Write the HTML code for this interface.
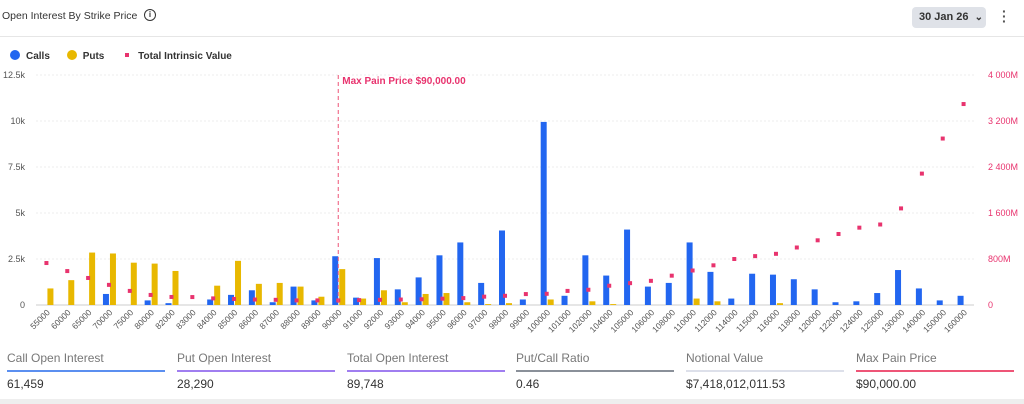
<!DOCTYPE html>
<html><head><meta charset="utf-8">
<style>
body{margin:0;width:1024px;height:404px;background:#fff;font-family:"Liberation Sans",Arial,sans-serif;overflow:hidden;position:relative}
.t{position:absolute}
.stat{position:absolute;top:351px;width:158px}
.stat .l{font-size:12px;color:#777;height:16px}
.stat .bar{height:2px;margin-top:3px}
.stat .v{font-size:12px;color:#333;margin-top:5px}
</style></head><body>
<div class="t" style="left:2px;top:10px;font-size:10.5px;color:#333">Open Interest By Strike Price</div>
<div class="t" style="left:144px;top:9px;width:10px;height:10px;border:1.5px solid #333;border-radius:50%;font-size:8px;font-weight:bold;text-align:center;line-height:10px;color:#333">i</div>
<div class="t" style="left:912px;top:7px;width:74px;height:21px;background:#dfe2e8;border-radius:4px;font-size:11px;font-weight:bold;color:#333;line-height:21px;padding-left:7px;box-sizing:border-box">30 Jan 26 <span style="font-size:10px;margin-left:3px">&#8964;</span></div>
<div class="t" style="left:1002px;top:9px;font-size:14px;color:#555;line-height:5px;font-weight:bold">·<br>·<br>·</div>
<div class="t" style="left:0;top:36px;width:1024px;height:1px;background:#e6e6e6"></div>
<div class="t" style="left:10px;top:50px;font-size:10px;font-weight:bold;color:#333">
<span><span style="display:inline-block;width:10px;height:10px;border-radius:50%;background:#2266f0;vertical-align:-1px;margin-right:6px"></span>Calls</span>
<span style="margin-left:14px"><span style="display:inline-block;width:10px;height:10px;border-radius:50%;background:#e8b800;vertical-align:-1px;margin-right:6px"></span>Puts</span>
<span style="margin-left:18px"><span style="display:inline-block;width:4px;height:4px;background:#e8336e;vertical-align:2px;margin-right:9px"></span>Total Intrinsic Value</span>
</div>
<svg id="c" width="1024" height="345" style="position:absolute;left:0;top:0"></svg>
<div class="stat" style="left:7px"><div class="l">Call Open Interest</div><div class="bar" style="background:#5b8ff0"></div><div class="v">61,459</div></div>
<div class="stat" style="left:177px"><div class="l">Put Open Interest</div><div class="bar" style="background:#a07ef0"></div><div class="v">28,290</div></div>
<div class="stat" style="left:347px"><div class="l">Total Open Interest</div><div class="bar" style="background:#a07ef0"></div><div class="v">89,748</div></div>
<div class="stat" style="left:516px"><div class="l">Put/Call Ratio</div><div class="bar" style="background:#8a9099"></div><div class="v">0.46</div></div>
<div class="stat" style="left:686px"><div class="l">Notional Value</div><div class="bar" style="background:#dde0ea"></div><div class="v">$7,418,012,011.53</div></div>
<div class="stat" style="left:856px"><div class="l">Max Pain Price</div><div class="bar" style="background:#ee5577"></div><div class="v">$90,000.00</div></div>
<div class="t" style="left:0;top:399px;width:1024px;height:5px;background:#eeeeee"></div>
<script>
const strikes=["55000","60000","65000","70000","75000","80000","82000","83000","84000","85000","86000","87000","88000","89000","90000","91000","92000","93000","94000","95000","96000","97000","98000","99000","100000","101000","102000","104000","105000","106000","108000","110000","112000","114000","115000","116000","118000","120000","122000","124000","125000","130000","140000","150000","160000"];
const calls=[0,0,0,0.6,0,0.25,0.1,0,0.3,0.55,0.8,0.15,1.0,0.25,2.65,0.4,2.55,0.85,1.5,2.7,3.4,1.2,4.05,0.3,9.95,0.5,2.7,1.6,4.1,1.0,1.2,3.4,1.8,0.35,1.7,1.65,1.4,0.85,0.15,0.2,0.65,1.9,0.9,0.25,0.5];
const puts=[0.9,1.35,2.85,2.8,2.3,2.25,1.85,0,1.05,2.4,1.15,1.2,1.0,0.45,1.95,0.35,0.8,0.15,0.6,0.65,0.15,0.05,0.1,0,0.3,0,0.2,0.05,0,0,0,0.35,0.2,0,0,0.1,0,0,0,0,0,0,0,0,0];
const intrinsic=[730,590,470,350,245,175,140,138,115,105,95,90,80,80,80,85,90,95,100,110,120,145,160,190,195,245,265,335,380,420,510,600,690,800,850,890,1000,1125,1235,1345,1400,1680,2285,2895,3495];
const leftTicks=[0,2.5,5,7.5,10,12.5];
const leftLabels=["0","2.5k","5k","7.5k","10k","12.5k"];
const rightTicks=[0,800,1600,2400,3200,4000];
const rightLabels=["0","800M","1 600M","2 400M","3 200M","4 000M"];
const maxPain="90000";
const svg=document.getElementById('c');const NS="http://www.w3.org/2000/svg";
const y0=305,y1=75,x0=36,x1=974;
const band=(x1-x0)/strikes.length;
const xC=i=>x0+band*(i+0.5);
const yL=v=>y0-(v/12.5)*(y0-y1);
const yR=v=>y0-(v/4000)*(y0-y1);
function mk(t,a,txt){const e=document.createElementNS(NS,t);for(const k in a)e.setAttribute(k,a[k]);if(txt!==undefined)e.textContent=txt;svg.appendChild(e);return e;}
leftTicks.forEach((v,i)=>{
 const g=mk('line',{x1:x0,x2:x1,y1:yL(v),y2:yL(v),stroke:i==0?'#ccc':'#eee','stroke-dasharray':i==0?'':'2,2'});
 
 
 const t=mk('text',{x:25,y:yL(v)+3,'text-anchor':'end','font-size':9,fill:'#555'},leftLabels[i]);
 
 
});
rightTicks.forEach((v,i)=>{
 const t=mk('text',{x:988,y:yR(v)+3,'font-size':9,fill:'#e8336e'},rightLabels[i]);
 
 
});
strikes.forEach((s,i)=>{
 const cx=xC(i);
 if(calls[i]>0){const b=mk('rect',{x:cx-6,y:yL(calls[i]),width:6,height:y0-yL(calls[i]),fill:'#2266f0'});
 
 }
 if(puts[i]>0){const b=mk('rect',{x:cx+1,y:yL(puts[i]),width:6,height:y0-yL(puts[i]),fill:'#e8b800'});
 
 }
 const d=mk('rect',{x:cx-2,y:yR(intrinsic[i])-2,width:4,height:4,fill:'#e8336e'});
 
 
 const t=mk('text',{x:cx+4,y:313,'text-anchor':'end','font-size':8.5,fill:'#555',transform:`rotate(-45 ${cx+4} 313)`},s);
 
 
});
const mi=strikes.indexOf(maxPain);const mx=xC(mi);
const ml=mk('line',{x1:mx,x2:mx,y1:y1,y2:y0,stroke:'#ee5577','stroke-dasharray':'4,3'});


const mt=mk('text',{x:mx+4,y:84,'font-size':10,'font-weight':'bold',fill:'#e8336e'},'Max Pain Price $90,000.00');


</script>
</body></html>
